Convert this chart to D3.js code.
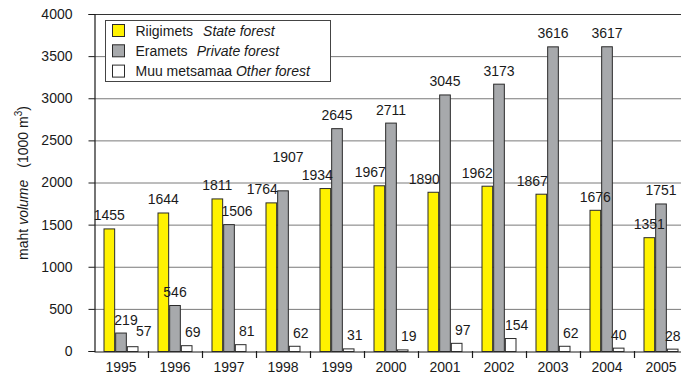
<!DOCTYPE html>
<html>
<head>
<meta charset="utf-8">
<script src="https://cdn.jsdelivr.net/npm/d3@7"></script>
<style>
  body { margin: 0; background: #fff; }
  svg { display: block; font-family: "Liberation Sans", Arial, sans-serif; }
</style>
</head>
<body>
<script>
const years = ["1995","1996","1997","1998","1999","2000","2001","2002","2003","2004","2005"];
const stateForest   = [1455, 1644, 1811, 1764, 1934, 1967, 1890, 1962, 1867, 1676, 1351];
const privateForest = [219, 546, 1506, 1907, 2645, 2711, 3045, 3173, 3616, 3617, 1751];
const otherForest   = [57, 69, 81, 62, 31, 19, 97, 154, 62, 40, 28];
const yTicks = [0, 500, 1000, 1500, 2000, 2500, 3000, 3500, 4000];

const series = [
  {key: "state",   et: "Riigimets",     en: "State forest",   values: stateForest,   fill: "#fff200", gap: 10},
  {key: "private", et: "Eramets",       en: "Private forest", values: privateForest, fill: "#a7a9ac", gap: 9},
  {key: "other",   et: "Muu metsamaa",  en: "Other forest",   values: otherForest,   fill: "#ffffff", gap: 4}
];

// hand placed labels in the original
const nudge = {
  "state-1998": [-9, 0], "state-1999": [-8, 0], "state-2000": [-9, 0],
  "state-2001": [-9, 0], "state-2002": [-10, 0], "state-2003": [-9, 0],
  "private-1995": [5, 0], "private-1997": [8, 0], "private-1998": [5, -20],
  "other-1995": [11, -2], "other-2004": [0, 0], "other-2005": [0, 0]
};

const width = 681, height = 375;
const plotLeft = 94, plotRight = 688, plotTop = 14, plotBottom = 351;
const ink = "#1a1a1a";

const svg = d3.select("body").append("svg")
  .attr("width", width)
  .attr("height", height);

const x = d3.scaleBand().domain(years).range([plotLeft, plotRight]);
const xi = d3.scaleBand().domain(series.map(s => s.key)).range([9.5, 44.5]);
const y = d3.scaleLinear().domain([0, 4000]).range([plotBottom, plotTop]);

// grid
svg.append("g")
  .selectAll("line")
  .data(yTicks.filter(t => t > 0 && t < 4000))
  .enter().append("line")
  .attr("x1", plotLeft).attr("x2", width)
  .attr("y1", d => y(d) + 0.5).attr("y2", d => y(d) + 0.5)
  .attr("stroke", "#7a7a7a").attr("stroke-width", 1);

svg.append("line")
  .attr("x1", plotLeft).attr("x2", width)
  .attr("y1", y(4000) + 0.5).attr("y2", y(4000) + 0.5)
  .attr("stroke", "#333").attr("stroke-width", 1.2);

// y axis
const yAxis = svg.append("g")
  .attr("transform", `translate(${plotLeft + 0.5},0)`)
  .call(d3.axisLeft(y).tickValues(yTicks).tickFormat(d3.format("d")).tickSize(6).tickPadding(16));
yAxis.attr("font-size", 14).attr("font-family", "Liberation Sans, Arial, sans-serif");
yAxis.select(".domain").attr("stroke", ink).attr("stroke-width", 1.2);
yAxis.selectAll(".tick line").attr("stroke", ink);
yAxis.selectAll(".tick text").attr("fill", ink);

// x axis
const xAxis = svg.append("g")
  .attr("transform", `translate(0,${plotBottom + 0.5})`)
  .call(d3.axisBottom(x).tickSize(0).tickPadding(11));
xAxis.attr("font-size", 14).attr("font-family", "Liberation Sans, Arial, sans-serif");
xAxis.select(".domain").attr("stroke", ink).attr("stroke-width", 1.2);
xAxis.selectAll(".tick text").attr("fill", ink);

svg.append("g")
  .selectAll("line")
  .data(years.slice(1))
  .enter().append("line")
  .attr("x1", d => x(d) + 0.5).attr("x2", d => x(d) + 0.5)
  .attr("y1", plotBottom).attr("y2", plotBottom + 7)
  .attr("stroke", ink).attr("stroke-width", 1.2);

// bars
const groups = svg.append("g")
  .selectAll("g")
  .data(years)
  .enter().append("g")
  .attr("transform", d => `translate(${x(d)},0)`);

groups.selectAll("rect")
  .data((d, i) => series.map(s => ({s, year: d, v: s.values[i]})))
  .enter().append("rect")
  .attr("x", d => xi(d.s.key) + 0.5)
  .attr("y", d => y(d.v) + 0.5)
  .attr("width", xi.bandwidth() - 1)
  .attr("height", d => plotBottom - y(d.v))
  .attr("fill", d => d.s.fill)
  .attr("stroke", "#2a2a2a")
  .attr("stroke-width", 1);

groups.selectAll("text")
  .data((d, i) => series.map(s => ({s, year: d, v: s.values[i]})))
  .enter().append("text")
  .attr("x", d => {
    let n = nudge[d.s.key + "-" + d.year];
    let dx = n ? n[0] : (d.s.key == "other" ? 6 : 0);
    return xi(d.s.key) + xi.bandwidth() / 2 + dx;
  })
  .attr("y", d => {
    let n = nudge[d.s.key + "-" + d.year];
    return y(d.v) - 8 + (n ? n[1] : 0);
  })
  .attr("text-anchor", "middle")
  .attr("font-size", 14)
  .attr("fill", ink)
  .text(d => d.v);

// y label
const yl = svg.append("text")
  .attr("transform", "translate(28,183) rotate(-90)")
  .attr("text-anchor", "middle")
  .attr("font-size", 14)
  .attr("fill", ink);
yl.append("tspan").text("maht ");
yl.append("tspan").attr("font-style", "italic").text("volume");
yl.append("tspan").attr("dx", 12).text("(1000 m");
yl.append("tspan").attr("font-size", 10).attr("dy", -6).text("3");
yl.append("tspan").attr("dy", 6).text(")");

// legend
const lg = svg.append("g").attr("transform", "translate(105.5,20.5)");
lg.append("rect")
  .attr("width", 225).attr("height", 61)
  .attr("fill", "#fff").attr("stroke", "#444").attr("stroke-width", 1);

const items = lg.selectAll("g.item")
  .data(series)
  .enter().append("g")
  .attr("class", "item")
  .attr("transform", (d, i) => `translate(7,${4 + i * 20.3})`);

items.append("rect")
  .attr("width", 12).attr("height", 12)
  .attr("fill", d => d.fill)
  .attr("stroke", "#2a2a2a");

const lt = items.append("text")
  .attr("x", 23).attr("y", 11)
  .attr("font-size", 14)
  .attr("fill", ink);
lt.append("tspan").text(d => d.et);
lt.append("tspan").attr("dx", d => d.gap).attr("font-style", "italic").text(d => d.en);
</script>
</body>
</html>
